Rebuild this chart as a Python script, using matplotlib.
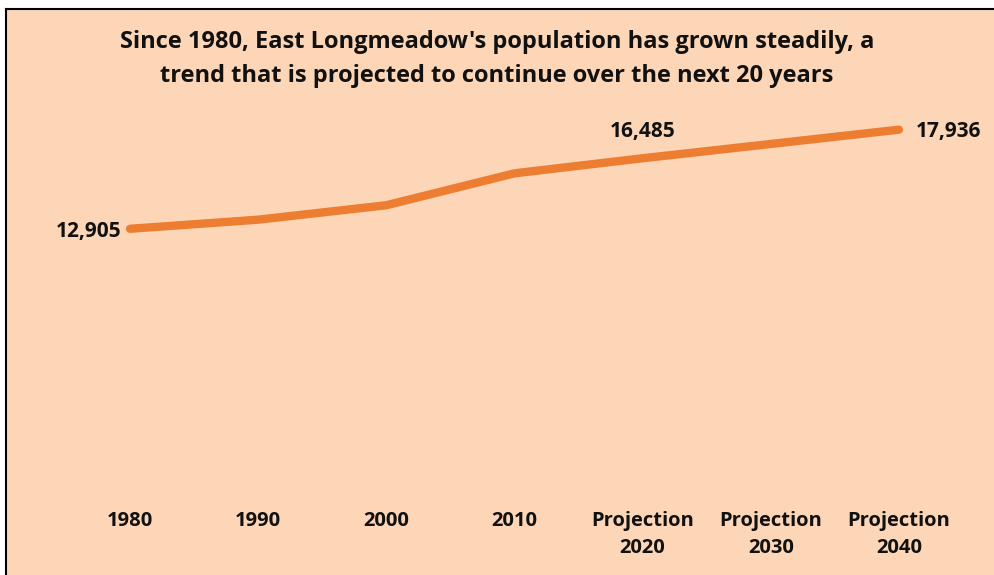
import matplotlib
matplotlib.use('Agg')
import matplotlib.pyplot as plt
from matplotlib.patches import Rectangle
from matplotlib.lines import Line2D

plt.rcParams['font.family'] = ['Open Sans', 'DejaVu Sans']

# Population of East Longmeadow, census years and projections
categories = ['1980', '1990', '2000', '2010', 'Projection\n2020', 'Projection\n2030', 'Projection\n2040']
population = [12905, 13367, 14100, 15720, 16485, 17210, 17936]

title = ("Since 1980, East Longmeadow's population has grown steadily, a\n"
         "trend that is projected to continue over the next 20 years")

bg_color = '#FCD6B7'
line_color = '#ED7D31'

fig = plt.figure(figsize=(9.94, 5.75), dpi=100)
fig.patch.set_facecolor('white')

# peach panel with a dark frame on the top and left edges
top = 1 - 9 / 575
left = 6 / 994
fig.add_artist(Rectangle((left, 0), 1 - left, top, transform=fig.transFigure,
                         facecolor=bg_color, edgecolor='none', zorder=0))
fig.add_artist(Line2D([left, 1], [top, top], transform=fig.transFigure, color='black', lw=1.5))
fig.add_artist(Line2D([left, left], [0, top], transform=fig.transFigure, color='black', lw=1.5))

ax = fig.add_axes([66 / 994, 1 - 483 / 575, (963 - 66) / 994, (483 - 89) / 575])
ax.set_facecolor('none')

x = list(range(len(categories)))
ax.plot(x, population, color=line_color, lw=6, solid_capstyle='round', solid_joinstyle='round')

ax.set_xlim(-0.5, len(categories) - 0.5)
ax.set_ylim(0, 20000)
ax.set_xticks(x)
ax.set_xticklabels(categories, fontsize=14.5, fontweight='bold', color='#111111', linespacing=1.5)
ax.tick_params(axis='x', length=0, pad=20)
ax.set_yticks([])
for s in ax.spines.values():
    s.set_visible(False)

# value labels at the first, 2020 and last points
lab_kw = dict(fontsize=15, fontweight='bold', color='#111111')
ax.annotate(f'{population[0]:,}', (x[0], population[0]), xytext=(-6, -2),
            textcoords='offset points', ha='right', va='center', **lab_kw)
ax.annotate(f'{population[4]:,}', (x[4], population[4]), xytext=(0, 12),
            textcoords='offset points', ha='center', va='bottom', **lab_kw)
ax.annotate(f'{population[6]:,}', (x[6], population[6]), xytext=(12, -1),
            textcoords='offset points', ha='left', va='center', **lab_kw)

fig.text(0.5, 1 - 59 / 575, title, ha='center', va='center', fontsize=17,
         fontweight='bold', color='#111111', linespacing=1.5)

fig.savefig('out.png', dpi=100)
